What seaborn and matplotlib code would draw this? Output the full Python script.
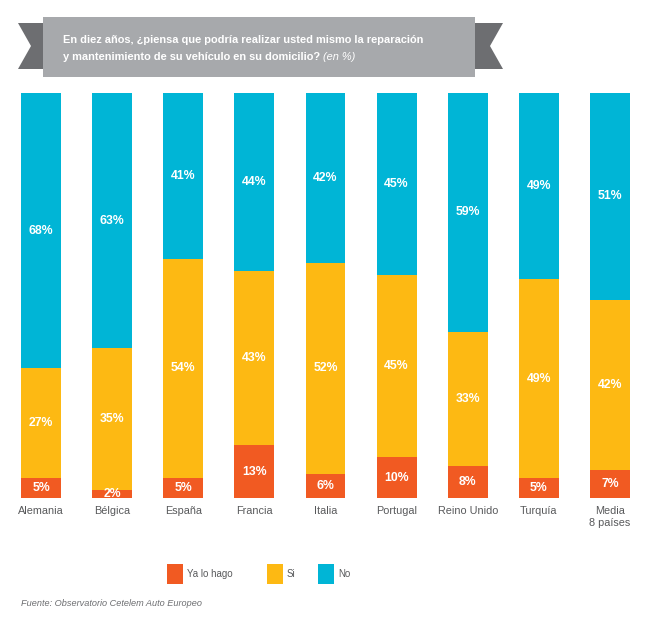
import numpy as np
import pandas as pd
import matplotlib
matplotlib.use("Agg")
import matplotlib.pyplot as plt
import seaborn as sns
from matplotlib.patches import Rectangle, Polygon

categories = ["Alemania", "Bélgica", "España", "Francia", "Italia", "Portugal",
              "Reino Unido", "Turquía", "Media\n8 países"]
ya_lo_hago = [5, 2, 5, 13, 6, 10, 8, 5, 7]
si = [27, 35, 54, 43, 52, 45, 33, 49, 42]
no = [68, 63, 41, 44, 42, 45, 59, 49, 51]
series_names = ["Ya lo hago", "Si", "No"]
colors = ["#f15a22", "#fdb913", "#00b5d6"]

sns.set_theme(style="white")
plt.rcParams['font.family'] = ['Liberation Sans', 'DejaVu Sans']

fig = plt.figure(figsize=(6.52, 6.22), dpi=100)
ax = fig.add_axes([0.0084, 0.1994, 0.9816, 0.6511])

ya = np.array(ya_lo_hago, dtype=float)
s = np.array(si, dtype=float)
n = np.array(no, dtype=float)
c1 = ya
c2 = ya + s
c3 = np.minimum(ya + s + n, 100)

df = pd.DataFrame({"cat": categories, "c1": c1, "c2": c2, "c3": c3})
for col, colr in zip(["c3", "c2", "c1"], colors[::-1]):
    sns.barplot(data=df, x="cat", y=col, color=colr, width=0.56, ax=ax,
                saturation=1, edgecolor="none", linewidth=0)

bottoms = [np.zeros(len(c1)), c1, c2]
tops = [c1, c2, c3]
vals = [ya, s, n]
for b, t, v in zip(bottoms, tops, vals):
    for i in range(len(categories)):
        ax.text(i, (b[i] + t[i]) / 2, f"{int(v[i])}%", ha="center", va="center",
                color="white", fontsize=8.8, fontweight="bold")

ax.set_xlim(-0.5, len(categories) - 0.5)
ax.set_ylim(0, 100)
ax.set_xlabel("")
ax.set_ylabel("")
ax.set_yticks([])
ax.tick_params(axis="x", length=0, pad=6, labelsize=7.8, labelcolor="#58595b")
for sp in ax.spines.values():
    sp.set_visible(False)

# Banner
W, H = 652, 622
def fx(x): return x / W
def fy(y): return 1 - y / H
dark = "#6d6e71"
light = "#a7a9ac"
fig.patches.append(Polygon([(fx(18), fy(23)), (fx(45), fy(23)), (fx(45), fy(69)),
                            (fx(18), fy(69)), (fx(31), fy(46))], closed=True,
                           transform=fig.transFigure, facecolor=dark, edgecolor="none"))
fig.patches.append(Polygon([(fx(473), fy(23)), (fx(503), fy(23)), (fx(490), fy(46)),
                            (fx(503), fy(69)), (fx(473), fy(69))], closed=True,
                           transform=fig.transFigure, facecolor=dark, edgecolor="none"))
fig.patches.append(Rectangle((fx(43), fy(77)), fx(475) - fx(43), fy(17) - fy(77),
                             transform=fig.transFigure, facecolor=light, edgecolor="none"))
fig.text(fx(63), fy(40), "En diez años, ¿piensa que podría realizar usted mismo la reparación",
         color="white", fontsize=7.9, fontweight="bold", va="center", ha="left")
t2 = fig.text(fx(63), fy(57), "y mantenimiento de su vehículo en su domicilio? ",
              color="white", fontsize=7.9, fontweight="bold", va="center", ha="left")
fig.canvas.draw()
bb = t2.get_window_extent(renderer=fig.canvas.get_renderer())
fig.text(bb.x1 / (fig.dpi * 6.52), fy(57), "(en %)", color="white", fontsize=7.9,
         fontstyle="italic", va="center", ha="left")

# Legend
leg_x = [167, 267, 318]
for name, colr, lx in zip(series_names, colors, leg_x):
    fig.patches.append(Rectangle((fx(lx), fy(584)), fx(16), fy(564) - fy(584),
                                 transform=fig.transFigure, facecolor=colr, edgecolor="none"))
    fig.text(fx(lx + 20), fy(574), name, color="#58595b", fontsize=7,
             va="center", ha="left")

fig.text(fx(21), fy(603), "Fuente: Observatorio Cetelem Auto Europeo", color="#6d6e71",
         fontsize=6.6, fontstyle="italic", va="center", ha="left")

fig.savefig("out.png", dpi=100)
